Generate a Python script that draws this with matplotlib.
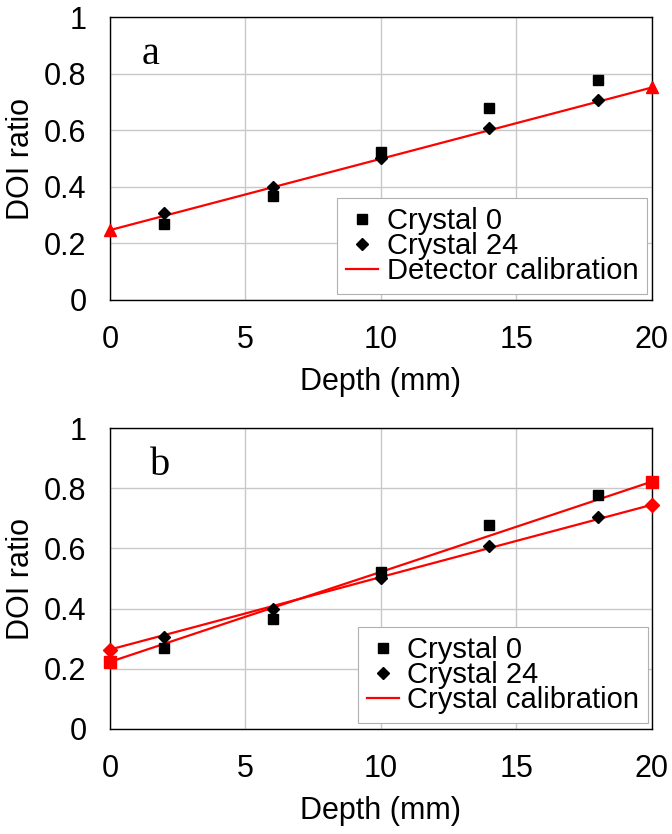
import matplotlib
matplotlib.use("Agg")
import matplotlib.pyplot as plt
from matplotlib.lines import Line2D

plt.rcParams['font.family'] = ['Liberation Sans', 'DejaVu Sans']

depth = [2, 6, 10, 14, 18]
crystal0 = [0.268, 0.367, 0.523, 0.677, 0.779]
crystal24 = [0.306, 0.399, 0.501, 0.609, 0.706]

calib_depth = [0, 5, 10, 15, 20]
detector_calib = [0.247, 0.373, 0.499, 0.625, 0.751]
crystal0_calib = [0.223, 0.373, 0.522, 0.672, 0.822]
crystal24_calib = [0.264, 0.384, 0.505, 0.625, 0.745]

xticks = [0, 5, 10, 15, 20]
yticks = [0, 0.2, 0.4, 0.6, 0.8, 1]
ytick_labels = ['0', '0.2', '0.4', '0.6', '0.8', '1']

FS = 22
LFS = 21
fig = plt.figure(figsize=(6.72, 8.34), dpi=100)
ax_a = fig.add_axes([0.1637, 0.6403, 0.8065, 0.3393])
ax_b = fig.add_axes([0.1637, 0.1259, 0.8065, 0.3609])

def style(ax):
    ax.set_xlim(0, 20)
    ax.set_ylim(0, 1)
    ax.set_xticks(xticks)
    ax.set_yticks(yticks)
    ax.set_yticklabels(ytick_labels)
    ax.grid(True, color='#c8c8c8', linewidth=1.0)
    ax.set_axisbelow(True)
    ax.tick_params(axis='both', length=0, labelsize=FS)
    ax.tick_params(axis='x', pad=18)
    ax.tick_params(axis='y', pad=17)
    for s in ax.spines.values():
        s.set_color('black')
        s.set_linewidth(1.0)
    ax.set_xlabel('Depth (mm)', fontsize=FS, labelpad=9)
    ax.set_ylabel('DOI ratio', fontsize=FS, labelpad=6)

red = '#ff0000'

def legend(ax, label, anchor):
    handles = [Line2D([], [], ls='none', marker='s', ms=7.5, color='black'),
               Line2D([], [], ls='none', marker='D', ms=6.5, color='black'),
               Line2D([], [], color=red, lw=1.6)]
    leg = ax.legend(handles, ['Crystal 0', 'Crystal 24', label],
                    loc='lower right', bbox_to_anchor=anchor, borderaxespad=0,
                    fontsize=LFS, frameon=True, fancybox=False, edgecolor='#b0b0b0',
                    framealpha=1, labelspacing=-0.1, handlelength=1.1,
                    handletextpad=0.3, borderpad=0.3)
    leg.get_frame().set_linewidth(0.8)

# Panel a
style(ax_a)
ax_a.plot(calib_depth, detector_calib, color=red, lw=1.6, marker='^', ms=9,
          markevery=[0, len(calib_depth) - 1], clip_on=False, zorder=3)
ax_a.plot(depth, crystal0, ls='none', marker='s', ms=7.5, color='black', zorder=4)
ax_a.plot(depth, crystal24, ls='none', marker='D', ms=6.5, color='black', zorder=4)
ax_a.text(1.5, 0.866, 'a', fontsize=29, family=['Liberation Serif'], ha='center', va='center')
legend(ax_a, 'Detector calibration', (0.991, 0.021))

# Panel b
style(ax_b)
ax_b.plot(calib_depth, crystal0_calib, color=red, lw=1.6, marker='s', ms=8,
          markevery=[0, len(calib_depth) - 1], clip_on=False, zorder=3)
ax_b.plot(calib_depth, crystal24_calib, color=red, lw=1.6, marker='D', ms=7,
          markevery=[0, len(calib_depth) - 1], clip_on=False, zorder=3)
ax_b.plot(depth, crystal0, ls='none', marker='s', ms=7.5, color='black', zorder=4)
ax_b.plot(depth, crystal24, ls='none', marker='D', ms=6.5, color='black', zorder=4)
ax_b.text(1.85, 0.877, 'b', fontsize=29, family=['Liberation Serif'], ha='center', va='center')
legend(ax_b, 'Crystal calibration', (0.993, 0.02))

fig.savefig('out.png', dpi=100)
